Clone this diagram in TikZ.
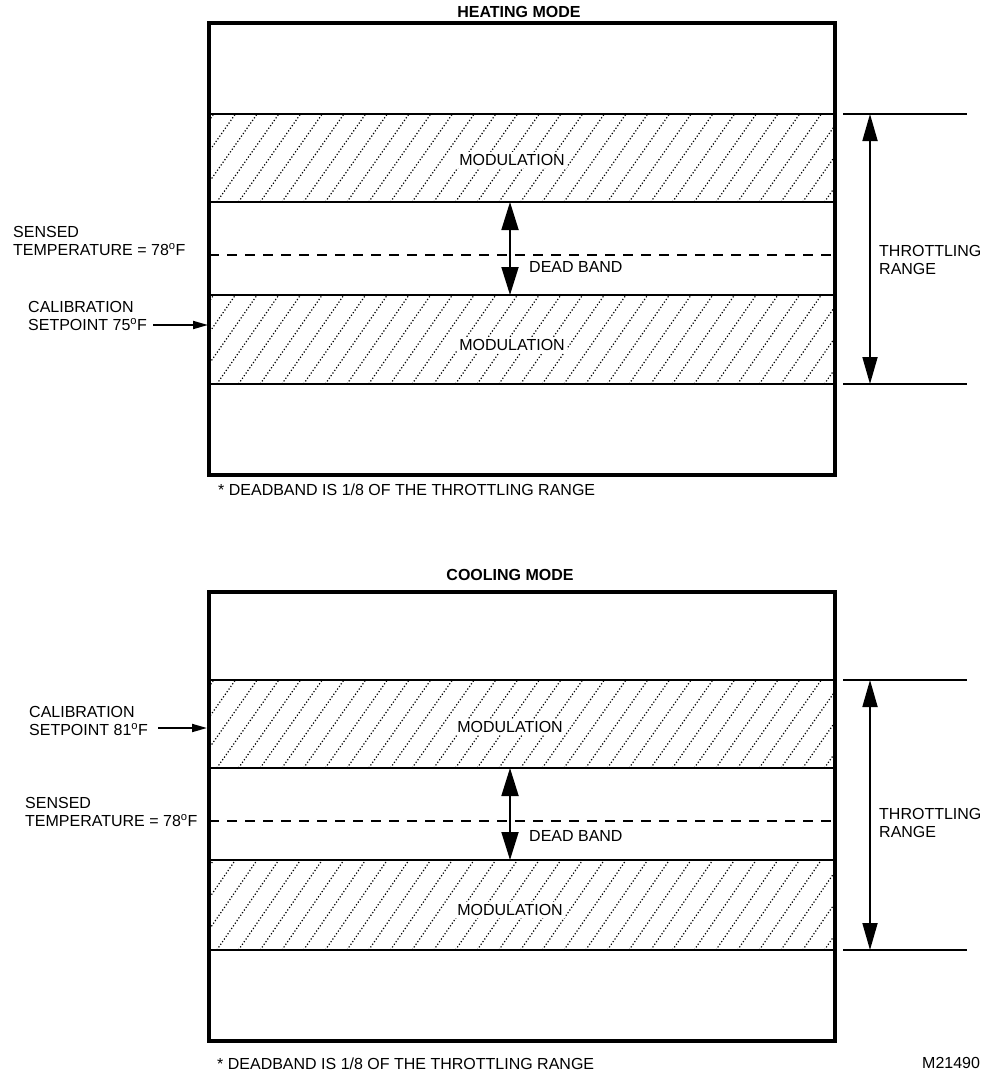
\documentclass[tikz,border=0pt]{standalone}
\usepackage{fontspec}
\setmainfont{Liberation Sans}
\usetikzlibrary{arrows.meta}
\tikzset{
	txt/.style={font=\fontsize{16}{18}\selectfont, inner sep=0pt},
	titletxt/.style={font=\fontsize{16}{18}\selectfont\bfseries, inner sep=0pt},
	lbl/.style={txt, align=left, anchor=west},
	bandtxt/.style={txt, fill=white, inner sep=2pt},
	frame/.style={line width=3.2pt},
	bandline/.style={line width=1.6pt},
	hatchline/.style={line width=1.2pt, dash pattern=on 1.2pt off 2pt},
	sensedline/.style={line width=1.3pt, dash pattern=on 10pt off 8pt},
	rangearrow/.style={line width=1.8pt, {Triangle[length=27pt,width=15pt]}-{Triangle[length=27pt,width=15pt]}},
	bandarrow/.style={line width=1.8pt, {Triangle[length=28pt,width=17pt]}-{Triangle[length=28pt,width=17pt]}},
	setarrow/.style={line width=1.8pt, -{Triangle[length=15pt,width=8pt]}}
}
\newcommand{\hatchband}[2]{%
	\begin{scope}
		\clip (209,#1) rectangle (835,#2);
		\foreach \x in {130,151.7,...,840}
			\draw[hatchline] (\x,#2) -- ++(62,#1-#2);
	\end{scope}}

\begin{document}
\begin{tikzpicture}[x=1pt,y=-1pt]
	\useasboundingbox (0,0) rectangle (985,1073);

	% heating mode
	\path (519,12) node[titletxt] (hTitle) {HEATING MODE};
	\hatchband{114}{202}
	\hatchband{295}{384}
	\draw[bandline] (209,114) -- (835,114) (209,202) -- (835,202) (209,295) -- (835,295) (209,384) -- (835,384);
	\draw[sensedline] (209,255) -- (835,255);
	\draw[frame] (209,23) rectangle (835,475);
	\draw[bandline] (843,114) -- (967,114) (843,384) -- (967,384);
	\path (512,160) node[bandtxt] (hModA) {MODULATION};
	\path (512,345) node[bandtxt] (hModB) {MODULATION};
	\coordinate (hRangeTop) at (870,114);
	\coordinate (hRangeBot) at (870,384);
	\draw[rangearrow] (hRangeTop) -- (hRangeBot);
	\path (879,260) node[lbl] (hRange) {THROTTLING\\RANGE};
	\coordinate (hDeadTop) at (510,202);
	\coordinate (hDeadBot) at (510,295);
	\draw[bandarrow] (hDeadTop) -- (hDeadBot);
	\path (529,267) node[lbl] (hDead) {DEAD BAND};
	\path (13,241) node[lbl] (hSensed) {SENSED\\TEMPERATURE = 78\textsuperscript{o}F};
	\path (28,316) node[lbl] (hCal) {CALIBRATION\\SETPOINT 75\textsuperscript{o}F};
	\coordinate (hSetFrom) at (153,325);
	\coordinate (hSetTo) at (208,325);
	\draw[setarrow] (hSetFrom) -- (hSetTo);
	\path (218,490) node[lbl] (hNote) {* DEADBAND IS 1/8 OF THE THROTTLING RANGE};

	% cooling mode
	\path (510,575) node[titletxt] (cTitle) {COOLING MODE};
	\hatchband{680}{768}
	\hatchband{860}{950}
	\draw[bandline] (209,680) -- (835,680) (209,768) -- (835,768) (209,860) -- (835,860) (209,950) -- (835,950);
	\draw[sensedline] (209,821) -- (835,821);
	\draw[frame] (209,592) rectangle (835,1041);
	\draw[bandline] (843,680) -- (967,680) (843,950) -- (967,950);
	\path (510,727) node[bandtxt] (cModA) {MODULATION};
	\path (510,910) node[bandtxt] (cModB) {MODULATION};
	\coordinate (cRangeTop) at (870,680);
	\coordinate (cRangeBot) at (870,950);
	\draw[rangearrow] (cRangeTop) -- (cRangeBot);
	\path (879,823) node[lbl] (cRange) {THROTTLING\\RANGE};
	\coordinate (cDeadTop) at (510,768);
	\coordinate (cDeadBot) at (510,860);
	\draw[bandarrow] (cDeadTop) -- (cDeadBot);
	\path (529,836) node[lbl] (cDead) {DEAD BAND};
	\path (25,812) node[lbl] (cSensed) {SENSED\\TEMPERATURE = 78\textsuperscript{o}F};
	\path (29,721) node[lbl] (cCal) {CALIBRATION\\SETPOINT 81\textsuperscript{o}F};
	\coordinate (cSetFrom) at (158,728);
	\coordinate (cSetTo) at (207,728);
	\draw[setarrow] (cSetFrom) -- (cSetTo);
	\path (217,1064) node[lbl] (cNote) {* DEADBAND IS 1/8 OF THE THROTTLING RANGE};
	\path (922,1063) node[lbl] (figId) {M21490};
\end{tikzpicture}
\end{document}
